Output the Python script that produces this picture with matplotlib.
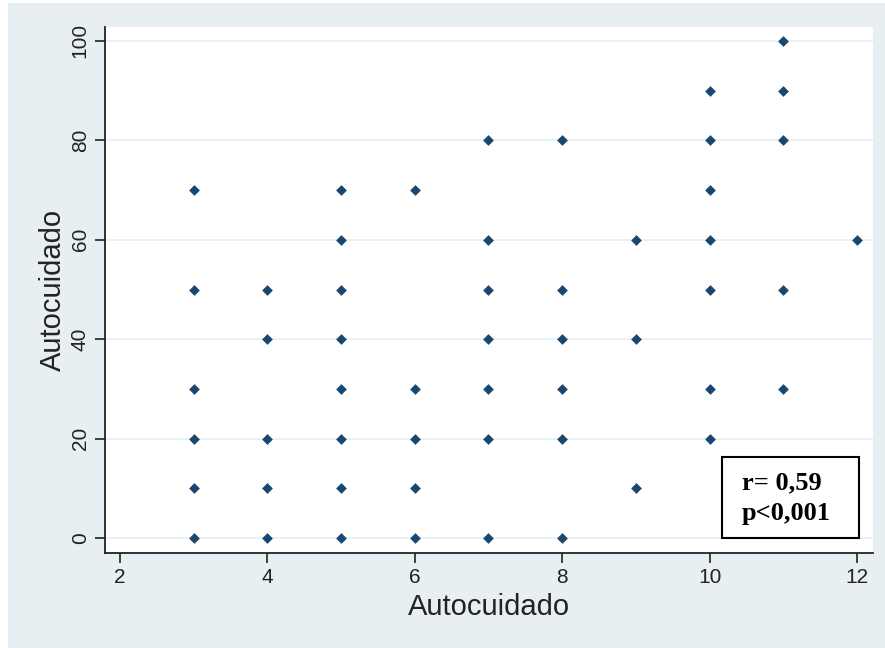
import matplotlib
matplotlib.use("Agg")
import matplotlib.pyplot as plt
from matplotlib.patches import Rectangle

plt.rcParams['font.family'] = ['Liberation Sans', 'DejaVu Sans']

# datos: (autocuidado x, autocuidado y)
x_vals = [3, 3, 3, 3, 3, 3,
          4, 4, 4, 4, 4,
          5, 5, 5, 5, 5, 5, 5, 5,
          6, 6, 6, 6, 6,
          7, 7, 7, 7, 7, 7, 7,
          8, 8, 8, 8, 8, 8,
          9, 9, 9,
          10, 10, 10, 10, 10, 10, 10,
          11, 11, 11, 11, 11,
          12]
y_vals = [70, 50, 30, 20, 10, 0,
          50, 40, 20, 10, 0,
          70, 60, 50, 40, 30, 20, 10, 0,
          70, 30, 20, 10, 0,
          80, 60, 50, 40, 30, 20, 0,
          80, 50, 40, 30, 20, 0,
          60, 40, 10,
          90, 80, 70, 60, 50, 30, 20,
          100, 90, 80, 50, 30,
          60]
x_ticks = [2, 4, 6, 8, 10, 12]
y_ticks = [0, 20, 40, 60, 80, 100]
stats_text = "r= 0,59\np<0,001"

W, H = 885, 648
fig = plt.figure(figsize=(W / 100, H / 100), dpi=100)
fig.patch.set_facecolor('white')
# fondo de la región del gráfico (estilo Stata)
fig.patches.append(Rectangle((8 / W, 0), 1 - 8 / W, 1 - 3 / H, transform=fig.transFigure,
                             facecolor='#e8eff3', edgecolor='none', zorder=-1))

ax = fig.add_axes([105 / W, 1 - 553 / H, (873 - 105) / W, (553 - 27) / H])
ax.set_zorder(1)
ax.set_facecolor('white')

ax.scatter(x_vals, y_vals, marker='D', s=30, color='#1a476f', zorder=3, linewidths=0)

ax.set_xlim(1.797, 12.217)
ax.set_ylim(-3.0, 102.8)
ax.set_xticks(x_ticks)
ax.set_yticks(y_ticks)
ax.grid(axis='y', color='#e6eff1', linewidth=1.2, zorder=1)
ax.set_axisbelow(True)

for s in ['top', 'right']:
    ax.spines[s].set_visible(False)
for s in ['left', 'bottom']:
    ax.spines[s].set_color('#222222')
    ax.spines[s].set_linewidth(1.3)

ax.tick_params(axis='both', direction='out', length=7, width=1.2, color='#222222',
               labelsize=15, labelcolor='#222222', pad=4)
for lab in ax.get_yticklabels():
    lab.set_rotation(90)
    lab.set_va('center')

ax.set_xlabel('Autocuidado', fontsize=21, color='#222222', labelpad=4)
ax.set_ylabel('Autocuidado', fontsize=21, color='#222222', labelpad=3)

# caja de estadísticos
box = Rectangle((722 / W, 1 - 538 / H), (859 - 722) / W, (538 - 457) / H,
                transform=fig.transFigure, facecolor='white',
                edgecolor='black', linewidth=1.5, zorder=5)
fig.add_artist(box)
fig.text(742 / W, 1 - 498 / H, stats_text, family=['Liberation Serif', 'DejaVu Serif'],
         fontweight='bold', fontsize=19, va='center', ha='left', linespacing=1.4,
         zorder=6)

fig.savefig('out.png', dpi=100, facecolor=fig.get_facecolor())
